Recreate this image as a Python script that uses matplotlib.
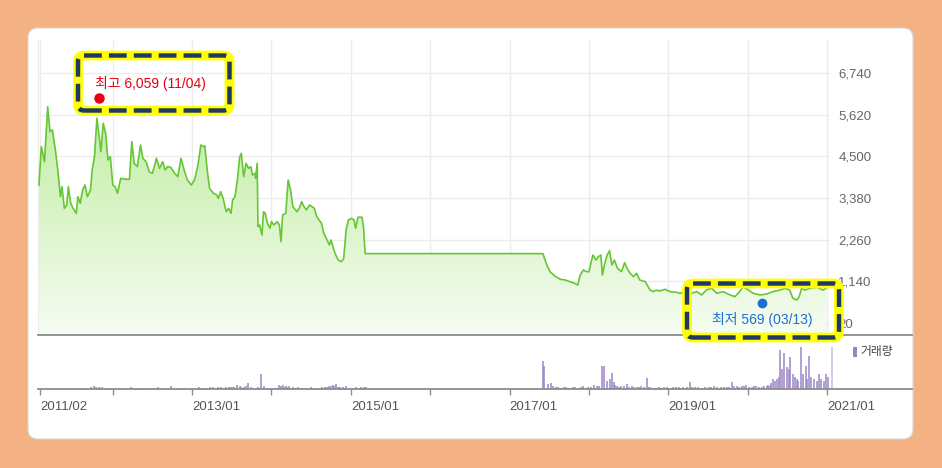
import numpy as np
import matplotlib
matplotlib.use("Agg")
import matplotlib.pyplot as plt
from matplotlib.patches import FancyBboxPatch, Rectangle
from matplotlib.transforms import IdentityTransform

plt.rcParams['font.family'] = ['Liberation Sans', 'Noto Sans CJK KR', 'DejaVu Sans']

# ---- data (decimal year, price) ----
price_dates = [
    2011.07, 2011.10, 2011.14, 2011.18, 2011.21, 2011.24, 2011.28, 2011.31, 2011.34, 2011.36,
    2011.39, 2011.42, 2011.44, 2011.47, 2011.50, 2011.54, 2011.56, 2011.59, 2011.62, 2011.65,
    2011.68, 2011.72, 2011.74, 2011.77, 2011.80, 2011.83, 2011.85, 2011.88, 2011.91, 2011.94,
    2011.97, 2012.00, 2012.03, 2012.06, 2012.10, 2012.17, 2012.21, 2012.24, 2012.27, 2012.31,
    2012.35, 2012.38, 2012.42, 2012.46, 2012.50, 2012.55, 2012.59, 2012.63, 2012.66, 2012.69,
    2012.73, 2012.78, 2012.82, 2012.86, 2012.90, 2012.94, 2012.99, 2013.03, 2013.07, 2013.11,
    2013.15, 2013.16, 2013.19, 2013.22, 2013.27, 2013.31, 2013.33, 2013.36, 2013.39, 2013.43,
    2013.46, 2013.49, 2013.51, 2013.54, 2013.57, 2013.60, 2013.62, 2013.65, 2013.68, 2013.71,
    2013.74, 2013.76, 2013.79, 2013.80, 2013.82, 2013.83, 2013.85, 2013.88, 2013.90, 2013.92,
    2013.95, 2013.98, 2014.00, 2014.03, 2014.07, 2014.10, 2014.12, 2014.14, 2014.18, 2014.21,
    2014.24, 2014.27, 2014.32, 2014.35, 2014.38, 2014.41, 2014.44, 2014.48, 2014.51, 2014.54,
    2014.57, 2014.60, 2014.63, 2014.66, 2014.70, 2014.73, 2014.75, 2014.78, 2014.81, 2014.84,
    2014.88, 2014.91, 2014.94, 2014.97, 2015.01, 2015.04, 2015.06, 2015.09, 2015.14, 2015.16,
    2015.18, 2017.42, 2017.47, 2017.51, 2017.57, 2017.64, 2017.70, 2017.76, 2017.82, 2017.86,
    2017.89, 2017.93, 2017.97, 2018.00, 2018.05, 2018.09, 2018.12, 2018.15, 2018.17, 2018.20,
    2018.23, 2018.26, 2018.29, 2018.32, 2018.36, 2018.41, 2018.45, 2018.48, 2018.52, 2018.56,
    2018.60, 2018.64, 2018.71, 2018.77, 2018.81, 2018.85, 2018.89, 2018.96, 2019.02, 2019.10,
    2019.15, 2019.23, 2019.29, 2019.36, 2019.42, 2019.48, 2019.55, 2019.61, 2019.69, 2019.78,
    2019.84, 2019.90, 2019.94, 2020.01, 2020.07, 2020.16, 2020.24, 2020.32, 2020.41, 2020.47,
    2020.53, 2020.57, 2020.62, 2020.65, 2020.68, 2020.72, 2020.79, 2020.87, 2020.95, 2020.99,
]
prices = [
    3730, 4760, 4356, 5834, 5162, 5208, 4624, 4087, 3415, 3684,
    3103, 3192, 3684, 3236, 3103, 2968, 3415, 3236, 3595, 3729,
    3415, 3595, 4133, 4490, 5522, 5027, 4624, 5388, 5119, 4401,
    4490, 3729, 3684, 3506, 3909, 3883, 3883, 4893, 4313, 4224,
    4805, 4447, 4356, 4087, 4044, 4447, 4178, 4356, 4133, 4224,
    4206, 4044, 3955, 4447, 4133, 3864, 3729, 3864, 4224, 4805,
    4759, 4780, 4133, 3640, 3506, 3461, 3371, 3550, 3371, 3012,
    3103, 2968, 3326, 3415, 3864, 4490, 4582, 3955, 4313, 4178,
    4224, 3998, 4044, 3909, 4313, 2610, 2654, 2385, 3012, 2968,
    2700, 2566, 2744, 2654, 2744, 2654, 2205, 2923, 2968, 3864,
    3595, 3147, 3012, 3103, 3281, 3147, 3058, 3192, 3147, 3103,
    2884, 2789, 2700, 2431, 2251, 2117, 2251, 2028, 1848, 1713,
    1668, 1758, 2520, 2789, 2834, 2789, 2566, 2863, 2863, 2610,
    1885, 1885, 1579, 1400, 1283, 1194, 1176, 1131, 1087, 1041,
    1310, 1445, 1400, 1400, 1848, 1713, 1803, 1848, 1310, 1624,
    1848, 1964, 1579, 1713, 1490, 1400, 1641, 1490, 1356, 1266,
    1356, 1176, 1131, 907, 863, 907, 880, 926, 863, 845,
    818, 863, 818, 863, 773, 907, 953, 818, 863, 773,
    729, 863, 996, 907, 818, 773, 800, 863, 907, 953,
    907, 684, 638, 729, 953, 907, 953, 980, 907, 953,
]

# volume (decimal year, relative volume)
vol_dates = [
    2011.18, 2011.60, 2011.73, 2011.76, 2011.79, 2011.83, 2011.87, 2011.94, 2012.23, 2012.29,
    2012.36, 2012.57, 2012.73, 2012.86, 2013.09, 2013.15, 2013.22, 2013.30, 2013.36, 2013.43,
    2013.49, 2013.53, 2013.57, 2013.62, 2013.66, 2013.70, 2013.74, 2013.83, 2013.87, 2013.90,
    2014.10, 2014.14, 2014.18, 2014.22, 2014.27, 2014.33, 2014.39, 2014.50, 2014.60, 2014.67,
    2014.73, 2014.77, 2014.81, 2014.86, 2014.94, 2015.07, 2015.13, 2015.19,
    2013.11, 2013.18, 2013.26, 2013.33, 2013.40, 2013.46, 2013.51, 2013.60, 2013.68,
    2014.12, 2014.16, 2014.20, 2014.30, 2014.36, 2014.45, 2014.55, 2014.64, 2014.70, 2014.75,
    2014.79, 2014.84, 2014.90, 2015.10, 2015.16,
    2017.42, 2017.44, 2017.49, 2017.52, 2017.55, 2017.61, 2017.68, 2017.74, 2017.80, 2017.87,
    2017.93, 2017.99, 2018.06, 2018.10, 2018.16, 2018.19, 2018.23, 2018.26, 2018.29, 2018.31,
    2018.36, 2018.41, 2018.48, 2018.54, 2018.60, 2018.66, 2018.73, 2018.77, 2018.85, 2018.94,
    2019.02, 2019.10, 2019.19, 2019.27, 2019.34, 2019.42, 2019.51, 2019.57, 2019.66, 2019.74,
    2019.80, 2019.86, 2019.93, 2019.98, 2020.05, 2020.11, 2020.18, 2020.24, 2020.28, 2020.32,
    2017.58, 2017.64, 2017.71, 2017.77, 2017.83, 2017.90, 2017.96, 2018.02, 2018.13, 2018.33,
    2018.38, 2018.44, 2018.51, 2018.57, 2018.63, 2018.69, 2018.75, 2018.81, 2018.88, 2018.91,
    2018.98, 2019.06, 2019.14, 2019.23, 2019.30, 2019.38, 2019.46, 2019.54, 2019.61, 2019.70,
    2019.77, 2019.83, 2019.89, 2019.96, 2020.02, 2020.08, 2020.14, 2020.21, 2020.26, 2020.30,
    2020.35, 2020.39,
    2020.37, 2020.41, 2020.43, 2020.46, 2020.49, 2020.52, 2020.54, 2020.57, 2020.60, 2020.62,
    2020.64, 2020.67, 2020.70, 2020.73, 2020.75, 2020.77, 2020.80, 2020.83, 2020.87, 2020.90,
    2020.93, 2020.96, 2020.99, 2021.01, 2021.06,
]
volumes = [
    1.5, 1.5, 2.5, 3, 2, 2.5, 2, 1.5, 2, 1.5,
    1.5, 2, 3, 1.5, 2, 1.5, 2, 1.5, 2, 2,
    2, 2.5, 4, 2.5, 2, 6.5, 2, 2, 15, 3,
    4, 4, 3.5, 3, 2, 2, 1.5, 2, 1.5, 2,
    3, 4, 5, 2.5, 3, 2, 2, 2.5,
    1.5, 1.5, 2, 2, 1.5, 2, 2, 3, 3,
    3, 2.5, 2, 1.5, 1.5, 1.5, 1.5, 2, 2.5, 3,
    3, 2.5, 2, 1.5, 2,
    28, 23, 5, 6, 3, 2, 2.5, 1.5, 2, 1.5,
    3, 2, 4, 3, 23, 23, 8, 10, 16, 7,
    3, 3, 5, 3, 2, 3, 11, 2.5, 1.5, 2,
    1.5, 2, 2.5, 7, 2, 1.5, 2.5, 3, 2, 2,
    7, 3, 3, 4, 2.5, 3, 2, 3, 3, 10,
    2, 1.5, 2, 1.5, 2, 2, 1.5, 2.5, 3, 4,
    2.5, 3, 2, 2.5, 2, 2, 2, 1.5, 2, 1.5,
    2, 2.5, 2, 2, 2.5, 2, 2, 2, 2.5, 2,
    2.5, 3, 2, 3, 2, 3, 2.5, 3, 4, 6,
    8, 12,
    10, 39, 20, 36, 22, 20, 32, 15, 12, 10,
    8, 42, 15, 23, 10, 33, 12, 10, 8, 15,
    10, 8, 15, 12, 42,
]

price_ticks = [20, 1140, 2260, 3380, 4500, 5620, 6740]
year_ticks = [2011.083, 2012, 2013, 2014, 2015, 2016, 2017, 2018, 2019, 2020, 2021]
year_labels = ['2011/02', '', '2013/01', '', '2015/01', '', '2017/01', '', '2019/01', '', '2021/01']

high_date, high_value, high_label = 2011.83, 6059, '최고 6,059 (11/04)'
low_date, low_value, low_label = 2020.18, 569, '최저 569 (03/13)'

# ---- figure ----
W, H = 942, 468
fig = plt.figure(figsize=(W / 100, H / 100), dpi=100)
fig.patch.set_facecolor('#F4B183')
ident = IdentityTransform()


def rbox(x0, y0, x1, y1, **kw):
    # pixel box, y measured from the top
    return FancyBboxPatch((x0, H - y1), x1 - x0, y1 - y0, transform=ident, **kw)


fig.patches.append(rbox(28, 28, 913, 439, boxstyle='round,pad=0,rounding_size=10',
                        fc='white', ec='#d8d8d8', lw=0.8, zorder=-10))

x_left = 2011.058
px_per_year = 79.36
axp = fig.add_axes([38 / W, 1 - 335 / H, 792 / W, 295 / H])
axv = fig.add_axes([38 / W, 1 - 389 / H, 874 / W, 54 / H])
for a in (axp, axv):
    a.set_facecolor('none')

# price panel
for s in axp.spines.values():
    s.set_visible(False)
axp.set_yticks(price_ticks)
axp.set_yticklabels([f'{v:,}' for v in price_ticks])
axp.yaxis.tick_right()
axp.tick_params(axis='y', length=0, pad=6, labelsize=9.5, labelcolor='#666666')
axp.set_xticks([])
for v in price_ticks:
    axp.axhline(v, color='#ececec', lw=1, zorder=1)
for t in [x_left + 0.005] + year_ticks:
    axp.axvline(t, color='#ececec', lw=1, zorder=1)

x = np.array(price_dates)
y = np.array(prices)
ybot = 20 - 12 * 26.88
poly = axp.fill_between(x, y, ybot, color='none', lw=0)
top_c = np.array([190, 236, 158]) / 255
bot_c = np.array([246, 252, 242]) / 255
grad = np.linspace(0, 1, 256)[:, None]
img = bot_c[None, None, :] * (1 - grad[:, :, None]) + top_c[None, None, :] * grad[:, :, None]
im = axp.imshow(img, extent=[x[0], x[-1], ybot, 6200], origin='lower',
                aspect='auto', zorder=2, interpolation='bilinear')
im.set_clip_path(poly.get_paths()[0], transform=axp.transData)
axp.plot(x, y, color='#66c634', lw=1.2, zorder=3)
axp.set_xlim(x_left, x_left + 792 / px_per_year)
axp.set_ylim(ybot, 20 + 283 * 26.88)

# volume panel
axv.set_xlim(x_left, x_left + 874 / px_per_year)
axv.set_ylim(0, 54)
for side in ('left', 'right'):
    axv.spines[side].set_visible(False)
for side in ('top', 'bottom'):
    axv.spines[side].set_color('#8c8c8c')
    axv.spines[side].set_linewidth(1.3)
axv.set_yticks([])
vd = np.array(vol_dates)
vv = np.array(volumes)
last = np.argmax(vd)
bar_colors = ['#c8bce2' if i == last else '#9a86c6' for i in range(len(vd))]
axv.vlines(vd, 0, vv, colors=bar_colors, lw=1.1)
axv.set_xticks(year_ticks)
axv.set_xticklabels(year_labels, ha='left')
axv.tick_params(axis='x', length=4, width=1, color='#8c8c8c', pad=5,
                labelsize=9.5, labelcolor='#555555')

# legend
fig.patches.append(Rectangle((853, H - 357), 4, 10, transform=ident,
                             fc='#9a86c6', ec='none'))
fig.text(860 / W, 1 - 352 / H, '거래량', fontsize=8.5, color='#444444',
         va='center', ha='left', family=['Noto Sans CJK KR', 'DejaVu Sans'])

# high / low markers
axp.plot([high_date], [high_value], 'o', color='#e60012', ms=6.5, zorder=6, clip_on=False)
axp.annotate(high_label, (high_date, high_value), xytext=(-3, 5), textcoords='offset points',
             color='#e60012', fontsize=10, ha='left', va='bottom', zorder=6,
             family=['Liberation Sans', 'Noto Sans CJK KR'])
axp.plot([low_date], [low_value], 'o', color='#1a6fd6', ms=6, zorder=6, clip_on=False)
axp.annotate(low_label, (low_date, low_value), xytext=(0, -7), textcoords='offset points',
             color='#1a6fd6', fontsize=10, ha='center', va='top', zorder=6,
             family=['Liberation Sans', 'Noto Sans CJK KR'])

# highlight boxes
for (x0, y0, x1, y1) in [(78, 55.5, 229.5, 110.5), (687, 283.5, 839, 337.5)]:
    fig.patches.append(rbox(x0, y0, x1, y1, boxstyle='round,pad=0,rounding_size=6',
                            fc='none', ec='#ffff00', lw=7, zorder=10))
    fig.patches.append(rbox(x0, y0, x1, y1, boxstyle='round,pad=0,rounding_size=6',
                            fc='none', ec='#1f3864', lw=3.2, ls=(0, (4, 1.6)), zorder=11))

fig.savefig('out.png', dpi=100, facecolor=fig.get_facecolor())
